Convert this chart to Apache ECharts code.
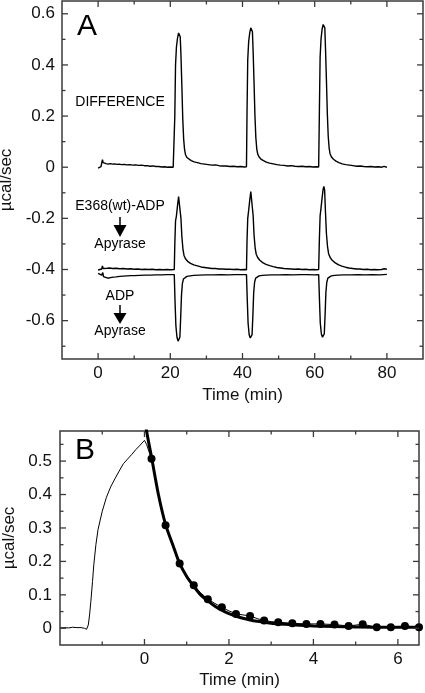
<!DOCTYPE html>
<html><head><meta charset="utf-8">
<script src="https://cdn.jsdelivr.net/npm/echarts@6/dist/echarts.min.js"></script>
<style>html,body{margin:0;padding:0;background:#fff}#c{width:425px;height:693px}</style>
</head><body><div id="c"></div>
<script>
// ---------- Panel A data: [time (min), µcal/sec] ----------
const diffTrace = [[0.0,-0.004],[0.4,-0.003],[0.8,0.002],[1.0,0.008],[1.2,0.030],[1.4,0.018],[1.7,0.012],[2.2,0.014],[2.8,0.012],[3.4,0.014],[4.0,0.012],[4.6,0.013],[5.2,0.011],[5.8,0.012],[6.5,0.010],[7.2,0.011],[8.0,0.009],[8.8,0.010],[9.6,0.008],[10.4,0.009],[11.2,0.007],[12.0,0.008],[12.8,0.006],[13.6,0.006],[14.4,0.004],[15.2,0.005],[16.0,0.003],[16.8,0.003],[17.6,0.001],[18.4,0.002],[19.2,0.000],[20.0,0.001],[20.8,0.000],[21.1,0.002],[21.25,0.20],[21.45,0.40],[21.7,0.47],[22.0,0.505],[22.3,0.525],[22.5,0.530],[22.75,0.510],[22.95,0.44],[23.2,0.32],[23.45,0.19],[23.7,0.11],[23.95,0.07],[24.2,0.050],[24.6,0.038],[25.1,0.031],[25.8,0.026],[26.6,0.021],[27.5,0.018],[28.5,0.014],[29.5,0.012],[30.5,0.010],[31.5,0.008],[32.5,0.009],[33.5,0.006],[34.5,0.005],[35.5,0.005],[36.5,0.003],[37.5,0.004],[38.5,0.002],[39.5,0.003],[40.5,0.001],[41.1,0.002],[41.25,0.21],[41.45,0.42],[41.7,0.49],[42.0,0.525],[42.3,0.545],[42.5,0.550],[42.75,0.53],[42.95,0.45],[43.2,0.33],[43.45,0.20],[43.7,0.115],[43.95,0.072],[44.2,0.052],[44.6,0.040],[45.1,0.032],[45.8,0.026],[46.6,0.020],[47.5,0.016],[48.5,0.013],[49.5,0.010],[50.5,0.008],[51.5,0.007],[52.5,0.005],[53.5,0.006],[54.5,0.004],[55.5,0.003],[56.5,0.004],[57.5,0.002],[58.5,0.003],[59.5,0.001],[60.5,0.002],[61.1,0.001],[61.3,0.22],[61.5,0.43],[61.75,0.50],[62.05,0.54],[62.35,0.558],[62.55,0.565],[62.8,0.545],[63.0,0.46],[63.25,0.34],[63.5,0.21],[63.75,0.12],[64.0,0.075],[64.25,0.053],[64.65,0.040],[65.2,0.031],[65.9,0.024],[66.7,0.018],[67.6,0.013],[68.6,0.010],[69.6,0.008],[70.6,0.006],[71.6,0.004],[72.6,0.005],[73.6,0.003],[74.6,0.002],[75.6,0.003],[76.6,0.001],[77.6,0.002],[78.6,0.000],[79.2,0.003],[80.0,0.000]];

const e368Trace = [[0.0,-0.402],[0.5,-0.400],[1.0,-0.398],[1.2,-0.386],[1.4,-0.396],[1.8,-0.394],[2.5,-0.395],[3.2,-0.394],[4.0,-0.396],[5.0,-0.395],[6.0,-0.397],[7.0,-0.396],[8.0,-0.398],[9.0,-0.397],[10.0,-0.399],[11.0,-0.398],[12.0,-0.400],[13.0,-0.399],[14.0,-0.400],[15.0,-0.399],[16.0,-0.401],[17.0,-0.400],[18.0,-0.401],[19.0,-0.400],[20.0,-0.401],[21.1,-0.400],[21.25,-0.30],[21.45,-0.21],[21.7,-0.19],[22.0,-0.15],[22.3,-0.115],[22.5,-0.108],[22.7,-0.12],[22.95,-0.20],[23.2,-0.27],[23.5,-0.32],[23.8,-0.345],[24.2,-0.358],[24.8,-0.368],[25.6,-0.376],[26.5,-0.382],[27.5,-0.386],[28.5,-0.390],[29.5,-0.392],[30.5,-0.394],[31.5,-0.396],[32.5,-0.396],[33.5,-0.398],[34.5,-0.398],[35.5,-0.399],[36.5,-0.399],[37.5,-0.400],[38.5,-0.399],[39.5,-0.401],[40.5,-0.400],[41.1,-0.401],[41.25,-0.29],[41.45,-0.20],[41.7,-0.17],[42.0,-0.13],[42.3,-0.095],[42.5,-0.088],[42.7,-0.10],[42.95,-0.19],[43.2,-0.265],[43.5,-0.315],[43.8,-0.340],[44.2,-0.353],[44.8,-0.364],[45.6,-0.373],[46.5,-0.380],[47.5,-0.385],[48.5,-0.389],[49.5,-0.392],[50.5,-0.394],[51.5,-0.396],[52.5,-0.397],[53.5,-0.398],[54.5,-0.399],[55.5,-0.398],[56.5,-0.400],[57.5,-0.399],[58.5,-0.401],[59.5,-0.400],[60.5,-0.401],[61.1,-0.400],[61.3,-0.28],[61.5,-0.19],[61.75,-0.16],[62.05,-0.12],[62.35,-0.085],[62.55,-0.075],[62.75,-0.09],[63.0,-0.18],[63.25,-0.26],[63.55,-0.31],[63.85,-0.338],[64.25,-0.352],[64.85,-0.364],[65.6,-0.373],[66.5,-0.381],[67.5,-0.387],[68.5,-0.391],[69.5,-0.394],[70.5,-0.396],[71.5,-0.398],[72.5,-0.398],[73.5,-0.400],[74.5,-0.399],[75.5,-0.401],[76.5,-0.400],[77.5,-0.401],[78.5,-0.400],[79.3,-0.397],[80.0,-0.399]];

const adpTrace = [[0.0,-0.415],[0.5,-0.418],[1.0,-0.422],[1.3,-0.412],[1.5,-0.428],[2.0,-0.432],[2.7,-0.434],[3.4,-0.432],[4.2,-0.430],[5.0,-0.429],[6.0,-0.427],[7.0,-0.426],[8.0,-0.425],[9.0,-0.424],[10.0,-0.424],[11.5,-0.423],[13.0,-0.422],[14.5,-0.422],[16.0,-0.421],[17.5,-0.421],[19.0,-0.420],[20.5,-0.420],[21.1,-0.420],[21.3,-0.52],[21.55,-0.62],[21.85,-0.665],[22.15,-0.680],[22.4,-0.682],[22.65,-0.665],[22.9,-0.58],[23.1,-0.50],[23.35,-0.455],[23.65,-0.437],[24.0,-0.430],[24.6,-0.427],[25.5,-0.425],[26.5,-0.423],[28.0,-0.422],[30.0,-0.421],[32.0,-0.421],[34.0,-0.420],[36.0,-0.421],[38.0,-0.420],[40.0,-0.420],[41.1,-0.420],[41.3,-0.51],[41.55,-0.61],[41.85,-0.655],[42.15,-0.668],[42.4,-0.670],[42.65,-0.655],[42.9,-0.57],[43.1,-0.49],[43.35,-0.450],[43.65,-0.434],[44.0,-0.428],[44.6,-0.425],[45.5,-0.423],[46.5,-0.422],[48.0,-0.421],[50.0,-0.421],[52.0,-0.420],[54.0,-0.421],[56.0,-0.420],[58.0,-0.420],[60.0,-0.421],[61.1,-0.420],[61.3,-0.51],[61.55,-0.61],[61.85,-0.652],[62.15,-0.665],[62.4,-0.667],[62.65,-0.652],[62.9,-0.57],[63.1,-0.49],[63.35,-0.450],[63.65,-0.434],[64.0,-0.428],[64.6,-0.425],[65.5,-0.423],[66.5,-0.422],[68.0,-0.421],[70.0,-0.421],[72.0,-0.420],[74.0,-0.421],[76.0,-0.420],[78.0,-0.421],[80.0,-0.419]];

// ---------- Panel B data ----------
const bRawTrace = [[-2.0,0.001],[-1.9,0.002],[-1.8,0.001],[-1.7,0.003],[-1.6,0.002],[-1.5,0.002],[-1.42,0.000],[-1.37,-0.003],[-1.33,0.010],[-1.30,0.040],[-1.27,0.080],[-1.23,0.140],[-1.20,0.190],[-1.15,0.250],[-1.10,0.295],[-1.00,0.350],[-0.90,0.392],[-0.80,0.423],[-0.70,0.447],[-0.60,0.470],[-0.50,0.492],[-0.40,0.506],[-0.30,0.520],[-0.20,0.535],[-0.10,0.548],[0.0,0.562],[0.05,0.550],[0.17,0.505],[0.33,0.400],[0.5,0.308],[0.67,0.245],[0.83,0.194],[1.0,0.158],[1.17,0.129],[1.33,0.106],[1.5,0.087],[1.67,0.074],[1.83,0.063],[2.0,0.052],[2.17,0.043],[2.33,0.040],[2.5,0.037],[2.67,0.029],[2.83,0.023],[3.0,0.020],[3.17,0.018],[3.5,0.015],[3.83,0.013],[4.17,0.013],[4.5,0.011],[4.83,0.007],[5.17,0.012],[5.5,0.003],[5.83,0.003],[6.17,0.007],[6.5,0.003]];

const bFitCurve = [[0.0,0.640],[0.05,0.590],[0.17,0.510],[0.33,0.400],[0.5,0.310],[0.67,0.250],[0.83,0.195],[1.0,0.155],[1.17,0.125],[1.33,0.100],[1.5,0.082],[1.67,0.066],[1.83,0.054],[2.0,0.044],[2.17,0.036],[2.33,0.030],[2.5,0.025],[2.67,0.021],[2.83,0.018],[3.0,0.015],[3.33,0.012],[3.67,0.009],[4.0,0.007],[4.5,0.005],[5.0,0.004],[5.5,0.003],[6.0,0.003],[6.5,0.003]];

const bPointTimes = [0.167,0.5,0.833,1.167,1.5,1.833,2.167,2.5,2.833,3.167,3.5,3.833,4.167,4.5,4.833,5.167,5.5,5.833,6.167,6.5];
const bPointValues = [0.507,0.308,0.194,0.129,0.087,0.063,0.043,0.037,0.023,0.018,0.015,0.013,0.013,0.011,0.007,0.012,0.003,0.003,0.007,0.003];

// ---------- Tick values ----------
const aXMajor = [0,20,40,60,80];
const aXMinor = [10,30,50,70];
const aYMajor = [-0.6,-0.4,-0.2,0,0.2,0.4,0.6];
const aYMinor = [-0.7,-0.5,-0.3,-0.1,0.1,0.3,0.5];
const bXMajor = [0,2,4,6];
const bXMinor = [-1,1,3,5];
const bYMajor = [0,0.1,0.2,0.3,0.4,0.5];
const bYMinor = [0.05,0.15,0.25,0.35,0.45,0.55];

const AX = '#3a3a3a';
const FONT = '"Liberation Sans", Arial, Helvetica, sans-serif';
const fmtDec = v => (Math.abs(v) < 1e-9 ? '0' : (+v).toFixed(1));
const fmtInt = v => String(Math.round(v));

function xAxisOpt(gridIndex, min, max, labels, fmt, name, nameGap, margin) {
  return {
    type:'value', gridIndex, min, max, position:'bottom',
    name, nameLocation:'middle', nameGap,
    nameTextStyle:{fontFamily:FONT, fontSize:17, color:'#111'},
    splitLine:{show:false}, axisLine:{show:false, onZero:false}, axisTick:{show:false},
    axisLabel:{show:true, customValues:labels, formatter:fmt, margin, fontFamily:FONT, fontSize:17, color:'#111'}
  };
}
function yAxisOpt(gridIndex, min, max, labels, fmt, name, nameGap, margin) {
  return {
    type:'value', gridIndex, min, max, position:'left',
    name, nameLocation:'middle', nameGap,
    nameTextStyle:{fontFamily:FONT, fontSize:17, color:'#111'},
    splitLine:{show:false}, axisLine:{show:false, onZero:false}, axisTick:{show:false},
    axisLabel:{show:true, customValues:labels, formatter:fmt, margin, fontFamily:FONT, fontSize:17, color:'#111'}
  };
}

// inward tick marks on all four sides, placed through the axes' own scales
function tickSeries(axisIndex, xMajor, xMinor, yMajor, yMinor) {
  const items = [].concat(
    xMajor.map(v => [v, 0, 1]), xMinor.map(v => [v, 0, 0]),
    yMajor.map(v => [v, 1, 1]), yMinor.map(v => [v, 1, 0])
  );
  return {
    type:'custom', xAxisIndex:axisIndex, yAxisIndex:axisIndex, silent:true, animation:false, clip:false, z:10,
    encode:{x:0, y:0},
    data: items,
    renderItem(params, api) {
      const cs = params.coordSys;
      const v = api.value(0), isY = api.value(1) === 1, major = api.value(2) === 1;
      const len = major ? 6 : 3.5;
      const st = {stroke:AX, lineWidth:1.3};
      if (!isY) {
        const px = api.coord([v, 0])[0];
        return {type:'group', children:[
          {type:'line', shape:{x1:px, y1:cs.y + cs.height, x2:px, y2:cs.y + cs.height - len}, style:st},
          {type:'line', shape:{x1:px, y1:cs.y, x2:px, y2:cs.y + len}, style:st}
        ]};
      }
      const py = api.coord([0, v])[1];
      return {type:'group', children:[
        {type:'line', shape:{x1:cs.x, y1:py, x2:cs.x + len, y2:py}, style:st},
        {type:'line', shape:{x1:cs.x + cs.width, y1:py, x2:cs.x + cs.width - len, y2:py}, style:st}
      ]};
    }
  };
}

const lineBase = {type:'line', showSymbol:false, symbol:'none', silent:true, animation:false, clip:true};
const gridBase = {show:true, borderColor:AX, borderWidth:1.5, backgroundColor:'transparent', containLabel:false, outerBoundsMode:'none'};

const chart = echarts.init(document.getElementById('c'), null, {renderer:'canvas'});
chart.setOption({
  animation:false,
  backgroundColor:'#fff',
  grid:[
    Object.assign({}, gridBase, {left:62, right:2, top:1, bottom:334}),
    Object.assign({}, gridBase, {left:60, right:6, top:431, bottom:48})
  ],
  xAxis:[
    xAxisOpt(0, -10, 90, aXMajor, fmtInt, 'Time (min)', 26, 6),
    xAxisOpt(1, -2, 6.5, bXMajor, fmtInt, 'Time (min)', 27, 6)
  ],
  yAxis:[
    yAxisOpt(0, -0.75, 0.65, aYMajor, fmtDec, 'µcal/sec', 40, 7),
    yAxisOpt(1, -0.05, 0.59, bYMajor, fmtDec, 'µcal/sec', 40, 8)
  ],
  series:[
    Object.assign({}, lineBase, {name:'DIFFERENCE', xAxisIndex:0, yAxisIndex:0, data:diffTrace, lineStyle:{color:'#000', width:1.4}}),
    Object.assign({}, lineBase, {name:'E368(wt)-ADP', xAxisIndex:0, yAxisIndex:0, data:e368Trace, lineStyle:{color:'#000', width:1.4}}),
    Object.assign({}, lineBase, {name:'ADP', xAxisIndex:0, yAxisIndex:0, data:adpTrace, lineStyle:{color:'#000', width:1.4}}),
    Object.assign({}, lineBase, {name:'raw', xAxisIndex:1, yAxisIndex:1, data:bRawTrace, lineStyle:{color:'#000', width:1}}),
    Object.assign({}, lineBase, {name:'fit', xAxisIndex:1, yAxisIndex:1, data:bFitCurve, smooth:0.3, lineStyle:{color:'#000', width:3}}),
    {type:'scatter', name:'points', xAxisIndex:1, yAxisIndex:1, silent:true, animation:false, z:5,
     symbol:'circle', symbolSize:8, itemStyle:{color:'#000', opacity:1},
     data: bPointTimes.map((t, i) => [t, bPointValues[i]])},
    tickSeries(0, aXMajor, aXMinor, aYMajor, aYMinor),
    tickSeries(1, bXMajor, bXMinor, bYMajor, bYMinor)
  ],
  graphic:[
    {type:'text', x:77, y:27, style:{text:'A', font:'30px ' + FONT, fill:'#000', align:'left', verticalAlign:'middle'}},
    {type:'text', x:75, y:451, style:{text:'B', font:'30px ' + FONT, fill:'#000', align:'left', verticalAlign:'middle'}},
    {type:'text', x:120, y:102, style:{text:'DIFFERENCE', font:'14px ' + FONT, fill:'#000', align:'center', verticalAlign:'middle'}},
    {type:'text', x:120, y:206, style:{text:'E368(wt)-ADP', font:'14px ' + FONT, fill:'#000', align:'center', verticalAlign:'middle'}},
    {type:'text', x:120, y:244, style:{text:'Apyrase', font:'14px ' + FONT, fill:'#000', align:'center', verticalAlign:'middle'}},
    {type:'text', x:120, y:296, style:{text:'ADP', font:'14px ' + FONT, fill:'#000', align:'center', verticalAlign:'middle'}},
    {type:'text', x:120, y:331, style:{text:'Apyrase', font:'14px ' + FONT, fill:'#000', align:'center', verticalAlign:'middle'}},
    {type:'line', shape:{x1:120, y1:217, x2:120, y2:227}, style:{stroke:'#000', lineWidth:1.5}},
    {type:'polygon', shape:{points:[[113.5,225],[126.5,225],[120,237]]}, style:{fill:'#000'}},
    {type:'line', shape:{x1:120, y1:305, x2:120, y2:315}, style:{stroke:'#000', lineWidth:1.5}},
    {type:'polygon', shape:{points:[[113.5,313],[126.5,313],[120,324]]}, style:{fill:'#000'}}
  ]
});
</script>
</body></html>
